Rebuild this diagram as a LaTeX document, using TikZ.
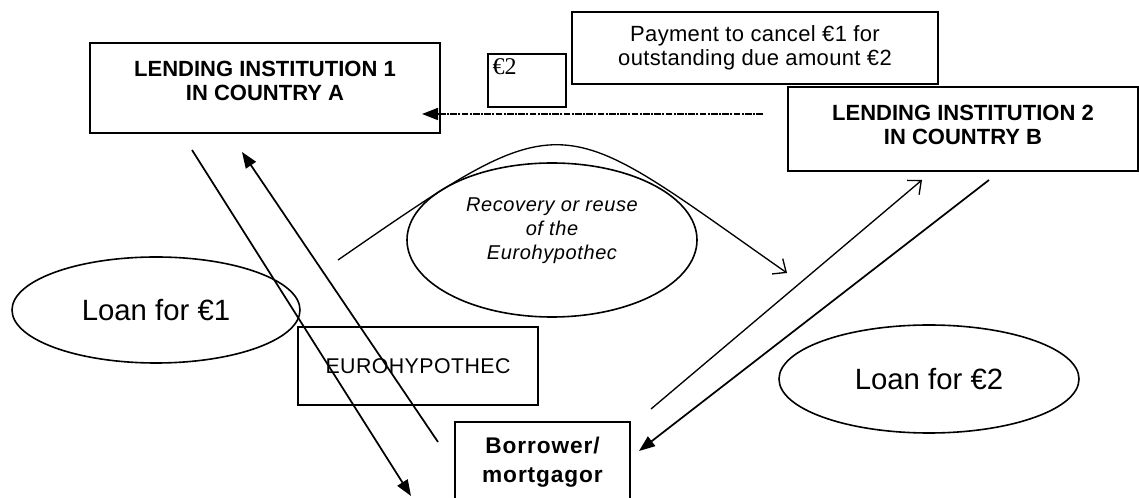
\documentclass[tikz,border=0pt]{standalone}
\usepackage{fontspec}
\setmainfont{Liberation Sans}
\newfontfamily\eurotwofont{Liberation Serif}
\usetikzlibrary{arrows.meta,shapes.geometric}

\begin{document}
\begin{tikzpicture}[x=0.75pt,y=-0.75pt,
    box/.style={draw,line width=1.5pt,inner sep=0,align=center},
    oval/.style={draw,ellipse,line width=1.2pt,inner sep=0,align=center},
    flow/.style={line width=1.3pt,-{Triangle[length=12pt,width=9pt]}},
    openflow/.style={line width=1pt,-{Straight Barb[length=8pt,width=14pt]}},
    transfer/.style={flow,dash pattern=on 5pt off 1pt on 1.5pt off 1pt}]
    \providecommand{\instfontsize}{\fontsize{16.5}{18}\selectfont\bfseries}
    \providecommand{\payfontsize}{\fontsize{16.5}{18}\selectfont\addfontfeature{LetterSpace=1.5}}
    \providecommand{\loanfontsize}{\fontsize{22}{24}\selectfont}
    \providecommand{\recovfontsize}{\fontsize{15}{18}\selectfont\itshape\addfontfeature{LetterSpace=3}}
    \providecommand{\hypfontsize}{\fontsize{16}{18}\selectfont\addfontfeature{LetterSpace=2}}
    \providecommand{\borrowfontsize}{\fontsize{17}{21.5}\selectfont\bfseries\addfontfeature{LetterSpace=4}}
    \providecommand{\eurotwofontsize}{\fontsize{18}{20}\eurotwofont}
    \useasboundingbox (0,0) rectangle (1139,498);
    % boxes
    \node[box,minimum width=262.5pt,minimum height=67.5pt,
        label={[font=\instfontsize,align=center,yshift=5.25pt]center:LENDING INSTITUTION 1\\IN COUNTRY A}] (li1) at (265,88) {};
    \node[box,minimum width=58.5pt,minimum height=39.75pt,
        label={[anchor=north west,inner sep=4pt,font=\eurotwofontsize]north west:€2}] (eurotwo) at (527,80.5) {};
    \node[box,minimum width=274.5pt,minimum height=54pt,font=\payfontsize] (pay) at (755,48) {Payment to cancel €1 for\\outstanding due amount €2};
    \node[box,minimum width=262.5pt,minimum height=63pt,
        label={[font=\instfontsize,align=center,yshift=3.4pt]center:LENDING INSTITUTION 2\\IN COUNTRY B}] (li2) at (963,129) {};
    \node[box,minimum width=180pt,minimum height=58.5pt,font=\hypfontsize] (hyp) at (418,366) {EUROHYPOTHEC};
    \node[box,minimum width=131.25pt,minimum height=60.75pt,font=\borrowfontsize] (borrower) at (542.5,462.5) {Borrower/\\mortgagor};
    % ellipses
    \node[oval,minimum width=216pt,minimum height=79.5pt,font=\loanfontsize] (loanone) at (156,310) {Loan for €1};
    \node[oval,minimum width=217.5pt,minimum height=115.5pt,
        label={[font=\recovfontsize,align=center,yshift=6.75pt]center:Recovery or reuse\\of the\\Eurohypothec}] (recov) at (552,240) {};
    \node[oval,minimum width=225pt,minimum height=81pt,font=\loanfontsize] (loantwo) at (929,379) {Loan for €2};
    % free ends of the connectors
    \coordinate (payfrom) at (763,114);
    \coordinate (payto) at (422,114);
    \coordinate (lendout) at (192,150);
    \coordinate (lendin) at (411,496);
    \coordinate (pledgeout) at (438,442);
    \coordinate (pledgein) at (242,152);
    \coordinate (reuseout) at (338,260);
    \coordinate (reusein) at (787,273);
    \coordinate (pledgetwoout) at (651,409);
    \coordinate (pledgetwoin) at (922,180);
    \coordinate (lendtwoout) at (989,180);
    \coordinate (lendtwoin) at (639,451);
    % connectors
    \draw[transfer] (payfrom) -- (payto);
    \draw[flow] (lendout) -- (lendin);
    \draw[flow] (pledgeout) -- (pledgein);
    \draw[openflow] (reuseout) .. controls (571,99) and (554,110) .. (reusein);
    \draw[openflow] (pledgetwoout) -- (pledgetwoin);
    \draw[flow] (lendtwoout) -- (lendtwoin);
\end{tikzpicture}
\end{document}
